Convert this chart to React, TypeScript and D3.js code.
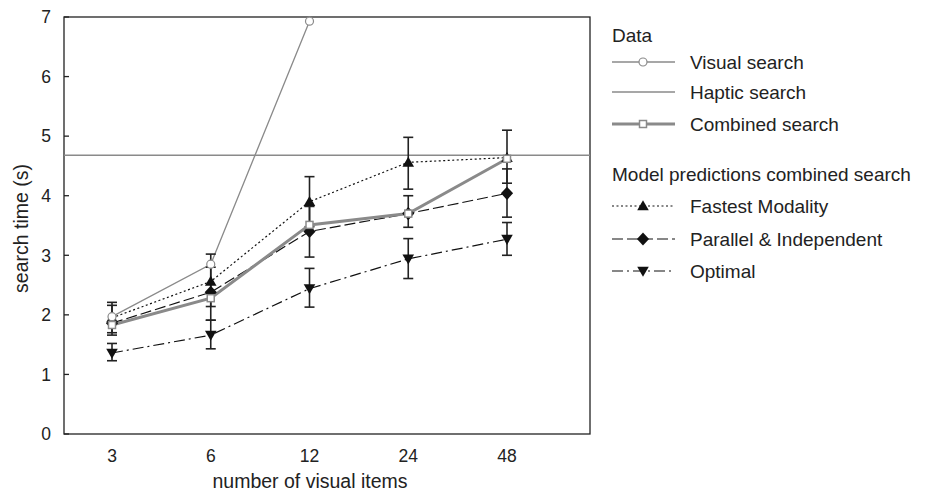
import React from "react";
import * as d3 from "d3";

const categories = ["3", "6", "12", "24", "48"];
const yTicks = [0, 1, 2, 3, 4, 5, 6, 7];

const visualSearch = [1.97, 2.85, 6.93];
const hapticSearch = 4.68;
const combinedSearch = [1.83, 2.28, 3.51, 3.7, 4.62];

const fastest = [1.95, 2.56, 3.9, 4.56, 4.64];
const fastestLo = [1.7, 2.14, 3.48, 4.11, 4.21];
const fastestHi = [2.21, 3.02, 4.32, 4.98, 5.1];

const parallel = [1.86, 2.38, 3.4, 3.7, 4.04];
const parallelLo = [1.66, 1.91, 2.97, 3.47, 3.64];
const parallelHi = [2.16, 2.8, 3.82, 4.0, 4.45];

const optimal = [1.36, 1.66, 2.44, 2.94, 3.27];
const optimalLo = [1.23, 1.43, 2.13, 2.61, 3.0];
const optimalHi = [1.52, 1.91, 2.78, 3.28, 3.55];

const GREY = "#8a8a8a";
const INK = "#222";
const FONT = "'Liberation Sans', Arial, sans-serif";

const left = 64;
const right = 590;
const top = 17;
const bottom = 434;

const x = d3.scalePoint<string>().domain(categories).range([112, 507]);
const y = d3.scaleLinear().domain([0, 7]).range([bottom, top]);

const tri = d3.symbol().type(d3.symbolTriangle).size(58)();
const diamond = d3.symbol().type(d3.symbolDiamond).size(50)();

function Marker({ kind, cx, cy }: { kind: string; cx: number; cy: number }) {
  if (kind === "circle")
    return <circle cx={cx} cy={cy} r={4} fill="white" stroke={GREY} strokeWidth={1.2} />;
  if (kind === "square")
    return <rect x={cx - 3.5} y={cy - 3.5} width={7} height={7} fill="white" stroke={GREY} strokeWidth={1.5} />;
  if (kind === "up") return <path d={tri!} transform={`translate(${cx},${cy + 1})`} fill="#111" />;
  if (kind === "down") return <path d={tri!} transform={`translate(${cx},${cy - 1}) rotate(180)`} fill="#111" />;
  return <path d={diamond!} transform={`translate(${cx},${cy}) scale(1.6,1)`} fill="#111" />;
}

const series = [
  { vals: fastest, lo: fastestLo, hi: fastestHi, dash: "2,2.5", marker: "up", width: 1.2 },
  { vals: parallel, lo: parallelLo, hi: parallelHi, dash: "11,4", marker: "diamond", width: 1.2 },
  { vals: optimal, lo: optimalLo, hi: optimalHi, dash: "11,4,2,4", marker: "down", width: 1.2 },
];

export default function App() {
  const line = d3
    .line<number>()
    .x((_d, i) => x(categories[i])!)
    .y((d) => y(d));

  const legendX = 612;
  const textX = 690;
  const dataRows = [
    { label: "Visual search", y: 62, kind: "visual" },
    { label: "Haptic search", y: 92, kind: "haptic" },
    { label: "Combined search", y: 124, kind: "combined" },
  ];
  const modelRows = [
    { label: "Fastest Modality", y: 206, s: series[0] },
    { label: "Parallel & Independent", y: 239, s: series[1] },
    { label: "Optimal", y: 271, s: series[2] },
  ];

  return (
    <div style={{ position: "fixed", left: 0, top: 0 }}>
      <svg width={930} height={492} style={{ display: "block", background: "white" }} fontFamily={FONT}>
        {/* frame */}
        <rect x={left} y={top} width={right - left} height={bottom - top} fill="none" stroke={INK} strokeWidth={1.3} />

        {/* y ticks */}
        {yTicks.map((t) => (
          <g key={t}>
            <line x1={left} x2={left + 5} y1={y(t)} y2={y(t)} stroke={INK} strokeWidth={1.3} />
            <text x={left - 13} y={y(t)} dy="0.36em" textAnchor="end" fontSize={17.5} fill={INK}>
              {t}
            </text>
          </g>
        ))}
        {categories.map((c) => (
          <text key={c} x={x(c)} y={462} textAnchor="middle" fontSize={17.5} fill={INK}>
            {c}
          </text>
        ))}
        <text x={310} y={488} textAnchor="middle" fontSize={19.5} fill={INK}>
          number of visual items
        </text>
        <text transform={`translate(28,${(top + bottom) / 2 + 3}) rotate(-90)`} textAnchor="middle" fontSize={19.5} fill={INK}>
          search time (s)
        </text>

        {/* haptic */}
        <line x1={left} x2={right} y1={y(hapticSearch)} y2={y(hapticSearch)} stroke={GREY} strokeWidth={1.4} />

        {/* visual */}
        <path d={line(visualSearch)!} fill="none" stroke={GREY} strokeWidth={1.3} />

        {/* model lines */}
        {series.map((s, si) => (
          <path key={si} d={line(s.vals)!} fill="none" stroke="#111" strokeWidth={s.width} strokeDasharray={s.dash} />
        ))}

        {/* error bars */}
        {series.map((s, si) =>
          categories.map((c, i) => (
            <g key={`${si}-${i}`} stroke={INK} strokeWidth={1.6}>
              <line x1={x(c)} x2={x(c)} y1={y(s.lo[i])} y2={y(s.hi[i])} />
              <line x1={x(c)! - 5} x2={x(c)! + 5} y1={y(s.lo[i])} y2={y(s.lo[i])} />
              <line x1={x(c)! - 5} x2={x(c)! + 5} y1={y(s.hi[i])} y2={y(s.hi[i])} />
            </g>
          ))
        )}

        {/* combined */}
        <path d={line(combinedSearch)!} fill="none" stroke={GREY} strokeWidth={3} />

        {series.map((s, si) =>
          s.vals.map((v, i) => <Marker key={`${si}-${i}`} kind={s.marker} cx={x(categories[i])!} cy={y(v)} />)
        )}
        {visualSearch.map((v, i) => (
          <Marker key={`v${i}`} kind="circle" cx={x(categories[i])!} cy={y(v)} />
        ))}
        {combinedSearch.map((v, i) => (
          <Marker key={`c${i}`} kind="square" cx={x(categories[i])!} cy={y(v)} />
        ))}

        {/* legend */}
        <text x={legendX} y={35} dy="0.36em" fontSize={19} fill={INK}>
          Data
        </text>
        {dataRows.map((r) => (
          <g key={r.label}>
            <line
              x1={legendX}
              x2={legendX + 63}
              y1={r.y}
              y2={r.y}
              stroke={GREY}
              strokeWidth={r.kind === "combined" ? 3 : 1.3}
            />
            {r.kind === "visual" && <Marker kind="circle" cx={legendX + 31} cy={r.y} />}
            {r.kind === "combined" && <Marker kind="square" cx={legendX + 31} cy={r.y} />}
            <text x={textX} y={r.y} dy="0.36em" fontSize={19} fill={INK}>
              {r.label}
            </text>
          </g>
        ))}
        <text x={legendX} y={174} dy="0.36em" fontSize={19} fill={INK}>
          Model predictions combined search
        </text>
        {modelRows.map((r) => (
          <g key={r.label}>
            <line
              x1={legendX}
              x2={legendX + 63}
              y1={r.y}
              y2={r.y}
              stroke="#111"
              strokeWidth={r.s.width}
              strokeDasharray={r.s.dash}
            />
            <Marker kind={r.s.marker} cx={legendX + 31} cy={r.y} />
            <text x={textX} y={r.y} dy="0.36em" fontSize={19} fill={INK}>
              {r.label}
            </text>
          </g>
        ))}
      </svg>
    </div>
  );
}
